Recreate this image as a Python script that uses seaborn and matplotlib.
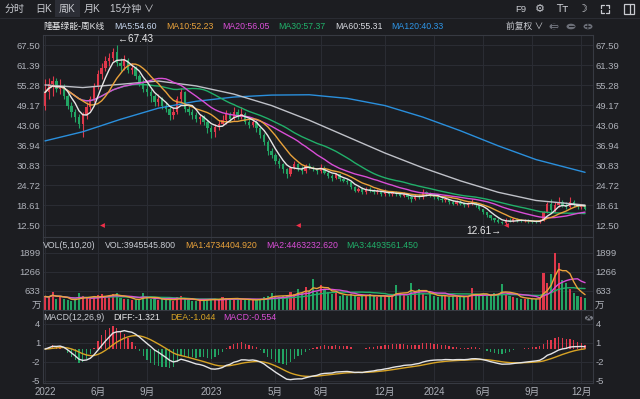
import numpy as np
import pandas as pd
import matplotlib
matplotlib.use("Agg")
import matplotlib.pyplot as plt
import seaborn as sns
from matplotlib.patches import Rectangle, Circle

# ---------------- data (weekly, 隆基绿能 601012, 前复权) ----------------
open_ = [49.0, 53.0, 55.5, 56.5, 54.0, 55.0, 52.0, 49.0, 47.0, 45.5,
         43.5, 46.0, 48.5, 51.0, 55.0, 58.5, 60.5, 62.5, 63.5, 65.5,
         62.0, 61.0, 63.0, 60.0, 60.5, 58.0, 56.0, 54.0, 53.0, 52.0,
         50.0, 51.0, 49.0, 48.0, 46.0, 47.0, 51.0, 53.0, 48.0, 47.0,
         46.0, 45.0, 45.5, 44.0, 42.0, 41.0, 42.5, 43.5, 44.5, 46.5,
         45.0, 47.0, 45.5, 46.5, 44.0, 43.0, 44.0, 42.0, 40.0, 38.0,
         35.0, 34.0, 32.0, 31.0, 29.5, 28.0, 30.0, 31.0, 30.0, 29.0,
         30.5, 30.0, 29.5, 29.0, 30.0, 28.5, 27.5, 27.0, 28.0, 26.5,
         26.0, 25.5, 24.0, 23.0, 23.5, 22.5, 23.5, 23.0, 22.5, 23.0,
         22.0, 22.5, 22.0, 22.5, 22.0, 21.5, 22.0, 21.0, 20.5, 21.5,
         21.0, 22.5, 22.0, 21.5, 21.0, 20.5, 20.0, 20.5, 19.5, 19.0,
         19.5, 19.0, 18.5, 19.0, 19.5, 18.5, 17.5, 16.5, 15.5, 14.5,
         14.0, 13.5, 13.0, 14.0, 13.8, 14.2, 14.0, 13.7, 13.8, 13.6,
         13.5, 13.4, 13.8, 16.5, 19.0, 17.0, 18.5, 19.5, 18.5, 18.0,
         19.5, 18.5, 18.0, 18.3]
close = [53.0, 55.5, 56.5, 54.0, 55.0, 52.0, 49.0, 47.0, 45.5, 43.5,
         46.0, 48.5, 51.0, 55.0, 58.5, 60.5, 62.5, 63.5, 65.5, 62.0,
         61.0, 63.0, 60.0, 60.5, 58.0, 56.0, 54.0, 53.0, 52.0, 50.0,
         51.0, 49.0, 48.0, 46.0, 47.0, 51.0, 53.0, 48.0, 47.0, 46.0,
         45.0, 45.5, 44.0, 42.0, 41.0, 42.5, 43.5, 44.5, 46.5, 45.0,
         47.0, 45.5, 46.5, 44.0, 43.0, 44.0, 42.0, 40.0, 38.0, 35.0,
         34.0, 32.0, 31.0, 29.5, 28.0, 30.0, 31.0, 30.0, 29.0, 30.5,
         30.0, 29.5, 29.0, 30.0, 28.5, 27.5, 27.0, 28.0, 26.5, 26.0,
         25.5, 24.0, 23.0, 23.5, 22.5, 23.5, 23.0, 22.5, 23.0, 22.0,
         22.5, 22.0, 22.5, 22.0, 21.5, 22.0, 21.0, 20.5, 21.5, 21.0,
         22.5, 22.0, 21.5, 21.0, 20.5, 20.0, 20.5, 19.5, 19.0, 19.5,
         19.0, 18.5, 19.0, 19.5, 18.5, 17.5, 16.5, 15.5, 14.5, 14.0,
         13.5, 13.0, 14.0, 13.8, 14.2, 14.0, 13.7, 13.8, 13.6, 13.5,
         13.4, 13.8, 16.5, 19.0, 17.0, 18.5, 19.5, 18.5, 18.0, 19.5,
         18.5, 18.0, 18.3, 17.5]
high = [57.0, 57.5, 58.0, 57.5, 57.0, 55.5, 52.5, 50.0, 48.0, 46.5,
        47.0, 50.0, 52.0, 56.0, 60.0, 62.0, 64.0, 65.0, 66.5, 67.43,
        63.5, 64.5, 63.5, 62.0, 61.0, 58.5, 57.0, 55.5, 54.0, 52.5,
        52.5, 51.5, 50.0, 48.5, 48.5, 52.0, 54.5, 53.5, 49.0, 48.0,
        47.0, 46.5, 46.0, 44.5, 43.0, 43.5, 44.5, 46.0, 47.5, 47.0,
        48.5, 48.0, 48.5, 47.0, 45.0, 45.0, 44.5, 42.5, 40.5, 38.5,
        36.0, 34.5, 33.0, 31.5, 30.0, 30.5, 32.0, 31.5, 30.5, 31.0,
        31.5, 30.5, 30.0, 31.0, 30.5, 29.0, 28.0, 28.5, 28.0, 27.0,
        26.5, 26.0, 24.5, 24.0, 24.0, 24.0, 24.0, 23.5, 23.5, 23.0,
        23.5, 23.0, 23.0, 23.0, 22.5, 22.5, 22.0, 21.5, 22.0, 22.0,
        23.5, 23.0, 22.5, 22.0, 21.5, 21.0, 21.0, 20.5, 20.0, 20.0,
        20.0, 19.5, 19.5, 20.5, 19.5, 18.5, 17.5, 16.5, 15.5, 14.5,
        14.5, 13.8, 14.5, 14.5, 14.6, 14.5, 14.3, 14.2, 14.2, 14.0,
        13.9, 14.2, 16.8, 19.5, 20.5, 19.5, 21.0, 20.0, 19.5, 21.2,
        20.0, 19.0, 18.8, 18.5]
low = [47.5, 51.0, 52.0, 53.0, 52.5, 51.0, 48.0, 45.5, 44.0, 42.0,
       39.4, 45.0, 47.5, 50.0, 54.0, 57.0, 59.5, 61.0, 62.5, 61.0,
       59.5, 60.0, 59.0, 58.5, 57.0, 55.0, 53.0, 52.0, 50.0, 49.0,
       49.0, 48.0, 47.0, 44.5, 45.0, 46.5, 50.0, 47.0, 46.0, 45.0,
       44.0, 43.5, 43.0, 40.5, 39.0, 39.5, 41.5, 43.0, 43.5, 44.0,
       44.5, 45.0, 45.0, 43.5, 42.0, 42.5, 41.0, 39.0, 37.0, 34.0,
       33.0, 31.0, 30.0, 28.5, 27.0, 27.5, 29.5, 29.0, 28.0, 28.5,
       29.5, 29.0, 28.0, 28.5, 28.0, 27.0, 26.0, 26.5, 26.0, 25.5,
       25.0, 23.5, 22.5, 22.5, 22.0, 22.0, 22.5, 22.0, 22.0, 21.5,
       21.5, 21.5, 21.5, 21.5, 21.0, 21.0, 20.5, 19.5, 20.0, 20.5,
       20.5, 21.5, 21.0, 20.5, 20.0, 19.5, 19.5, 19.0, 18.5, 18.5,
       18.5, 18.0, 18.0, 18.5, 18.0, 17.0, 16.0, 15.0, 14.0, 13.5,
       13.0, 12.8, 12.61, 13.3, 13.5, 13.5, 13.3, 13.3, 13.2, 13.0,
       13.0, 13.2, 13.6, 16.3, 16.5, 16.5, 18.0, 18.0, 17.5, 17.8,
       18.0, 17.5, 17.5, 17.0]
volume = [450, 420, 600, 380, 430, 350, 330, 300, 320, 550,
          480, 400, 380, 420, 500, 530, 450, 480, 520, 560,
          400, 380, 350, 330, 340, 360, 580, 420, 380, 350,
          330, 360, 340, 380, 300, 420, 450, 350, 330, 310,
          300, 320, 340, 380, 360, 350, 330, 420, 400, 370,
          380, 350, 340, 360, 330, 320, 340, 380, 420, 450,
          550, 470, 430, 450, 480, 600, 520, 713, 560, 750,
          620, 1046, 600, 820, 650, 590, 520, 560, 480, 500,
          460, 520, 480, 440, 500, 470, 520, 450, 430, 480,
          460, 440, 500, 820, 560, 520, 480, 890, 620, 700,
          540, 480, 520, 460, 440, 500, 470, 440, 480, 420,
          450, 430, 480, 720, 500, 460, 520, 480, 500, 560,
          540, 880, 520, 460, 440, 400, 380, 360, 380, 350,
          370, 400, 1220, 900, 1200, 1899, 1551, 1000, 900, 700,
          550, 480, 420, 400]
# long moving averages (history before the window is not shown), read at sample weeks
ma_sample_weeks = [0, 10, 20, 30, 40, 50, 60, 70, 80, 90, 100, 110, 120, 130, 143]
ma60_values = [55.3, 54.5, 55.5, 56.5, 55.0, 52.5, 49.0, 44.5, 39.5, 34.5, 30.0, 26.0, 22.5, 20.0, 18.6]
ma120_values = [38.2, 41.0, 44.8, 48.2, 50.3, 51.6, 52.2, 52.3, 51.2, 49.0, 45.5, 41.3, 36.7, 32.5, 28.6]

price_ticks = [12.50, 18.61, 24.72, 30.83, 36.94, 43.06, 49.17, 55.28, 61.39, 67.50]
vol_ticks = [633, 1266, 1899]
macd_ticks = [-5, -2, 1, 4]
date_tick_weeks = [0, 14, 27, 44, 61, 73, 90, 103, 116, 129, 142]
date_tick_labels = ['2022', '6月', '9月', '2023', '5月', '8月', '12月', '2024', '6月', '9月', '12月']
event_weeks = [15, 67, 122]

# ---------------- style ----------------
sns.set_theme(style="dark")
plt.rcParams['font.family'] = ['Liberation Sans', 'Noto Sans CJK SC', 'DejaVu Sans']
BG = '#1c1d21'
GRID = '#2a2c33'
BORDER = '#373a42'
TXT = '#aeb1b9'
ICON = '#c8cad0'
RED = '#e0384b'
GREEN = '#22a463'
C_MA5 = '#e6e6e6'
C_MA10 = '#e9a23b'
C_MA20 = '#d94ed6'
C_MA30 = '#21b06a'
C_MA60 = '#bfc1c8'
C_MA120 = '#2a8fdc'

W, H = 640, 399
fig = plt.figure(figsize=(W / 100, H / 100), dpi=100, facecolor=BG)


def ax_at(x0, y0, x1, y1):
    a = fig.add_axes([x0 / W, 1 - y1 / H, (x1 - x0) / W, (y1 - y0) / H])
    a.set_facecolor(BG)
    for s in a.spines.values():
        s.set_color(BORDER)
        s.set_linewidth(0.8)
    a.tick_params(length=0, colors=TXT, labelsize=6.8, labelleft=True, labelright=True, pad=2)
    a.grid(False)
    return a


def ftext(x, y, s, **kw):
    kw.setdefault('color', TXT)
    kw.setdefault('fontsize', 6.3)
    kw.setdefault('va', 'center')
    fig.text(x / W, 1 - y / H, s, **kw)


def fline(xs, ys, **kw):
    fig.add_artist(plt.Line2D([v / W for v in xs], [1 - v / H for v in ys],
                              transform=fig.transFigure, **kw))


N = len(close)
df = pd.DataFrame({'week': np.arange(N), 'open': open_, 'close': close,
                   'high': high, 'low': low, 'vol': volume})
for n in (5, 10, 20, 30):
    df[f'ma{n}'] = df['close'].rolling(n, min_periods=1).mean()
for n in (5, 10, 20):
    df[f'vma{n}'] = df['vol'].rolling(n, min_periods=1).mean()
ema12 = df['close'].ewm(span=12, adjust=False).mean()
ema26 = df['close'].ewm(span=26, adjust=False).mean()
df['diff'] = ema12 - ema26
df['dea'] = df['diff'].ewm(span=9, adjust=False).mean()
df['hist'] = 2 * (df['diff'] - df['dea'])
up = df['close'] >= df['open']
cols = np.where(up, RED, GREEN)
mlong = pd.DataFrame({'week': ma_sample_weeks, 'ma60': ma60_values, 'ma120': ma120_values})

XL = (-0.53, 145.1)

# ---------------- main price panel ----------------
ax = ax_at(43, 35, 593, 237)
ax.set_xlim(*XL)
ax.set_ylim(8.84, 70.56)
for t in price_ticks:
    ax.axhline(t, color=GRID, lw=0.8, zorder=0)
for w in date_tick_weeks:
    ax.axvline(w, color=GRID, lw=0.8, zorder=0)
ax.vlines(df['week'], df['low'], df['high'], colors=cols, lw=0.8, zorder=2)
body = (df['close'] - df['open']).abs().clip(lower=0.12)
ax.bar(df['week'], body, bottom=df[['open', 'close']].min(axis=1), width=0.62,
       color=cols, linewidth=0, zorder=2)
sns.lineplot(data=mlong, x='week', y='ma120', ax=ax, color=C_MA120, lw=1.0, zorder=3)
sns.lineplot(data=mlong, x='week', y='ma60', ax=ax, color=C_MA60, lw=1.0, zorder=3)
sns.lineplot(data=df, x='week', y='ma30', ax=ax, color=C_MA30, lw=1.0, zorder=4)
sns.lineplot(data=df, x='week', y='ma20', ax=ax, color=C_MA20, lw=1.0, zorder=4)
sns.lineplot(data=df, x='week', y='ma10', ax=ax, color=C_MA10, lw=1.0, zorder=4)
sns.lineplot(data=df, x='week', y='ma5', ax=ax, color=C_MA5, lw=1.0, zorder=5)
ax.set_yticks(price_ticks)
ax.set_yticklabels([f'{t:.2f}' for t in price_ticks])
ax.set_xticks(date_tick_weeks)
ax.tick_params(labelbottom=False)
ax.set_xlabel('')
ax.set_ylabel('')
# extremes
ih = int(np.argmax(high))
il = int(np.argmin(low))
ax.text(ih + 0.3, high[ih] + 0.3, '←' + f'{high[ih]:.2f}', color='#e8e8ea', fontsize=7.2,
        ha='left', va='bottom', zorder=6)
ax.text(il - 1.0, low[il] - 0.4, f'{low[il]:.2f}' + '→', color='#e8e8ea', fontsize=7.2,
        ha='right', va='top', zorder=6)
ax.scatter(event_weeks, [12.5] * len(event_weeks), marker='<', s=12, color='#f0304a',
           linewidths=0, zorder=6)

# ---------------- volume panel ----------------
av = ax_at(43, 237, 593, 310)
av.set_xlim(*XL)
av.set_ylim(0, 2432)
for t in vol_ticks:
    av.axhline(t, color=GRID, lw=0.8, zorder=0)
for w in date_tick_weeks:
    av.axvline(w, color=GRID, lw=0.8, zorder=0)
av.bar(df['week'], df['vol'], width=0.55, color=cols, linewidth=0, zorder=2)
sns.lineplot(data=df, x='week', y='vma20', ax=av, color=C_MA30, lw=1.0, zorder=3)
sns.lineplot(data=df, x='week', y='vma10', ax=av, color=C_MA20, lw=1.0, zorder=3)
sns.lineplot(data=df, x='week', y='vma5', ax=av, color=C_MA10, lw=1.0, zorder=4)
av.set_yticks(vol_ticks)
av.set_yticklabels([str(t) for t in vol_ticks])
av.set_xticks(date_tick_weeks)
av.tick_params(labelbottom=False)
av.set_xlabel('')
av.set_ylabel('')

# ---------------- MACD panel ----------------
am = ax_at(43, 310, 593, 383)
am.set_xlim(*XL)
am.set_ylim(-5.36, 6.16)
for t in macd_ticks:
    am.axhline(t, color=GRID, lw=0.8, zorder=0)
for w in date_tick_weeks:
    am.axvline(w, color=GRID, lw=0.8, zorder=0)
hcols = np.where(df['hist'] >= 0, RED, GREEN)
am.bar(df['week'], df['hist'], width=0.35, color=hcols, linewidth=0, zorder=2)
sns.lineplot(data=df, x='week', y='dea', ax=am, color='#d7a325', lw=1.0, zorder=3)
sns.lineplot(data=df, x='week', y='diff', ax=am, color='#e4e4e6', lw=1.0, zorder=4)
am.set_yticks(macd_ticks)
am.set_yticklabels([str(t) for t in macd_ticks])
am.set_xticks(date_tick_weeks)
am.set_xticklabels(date_tick_labels)
am.tick_params(axis='x', labelsize=7.0, pad=3)
am.set_xlabel('')
am.set_ylabel('')

# ---------------- header texts ----------------
fig.add_artist(Rectangle((55 / W, 1 - 17 / H), 25 / W, 17 / H, transform=fig.transFigure,
                         facecolor='#2c2e36', edgecolor='none'))
fline([0, W], [17.5, 17.5], color='#2a2c33', lw=0.8)
for xx, s in [(5, '分时'), (35, '日K'), (59, '周K'), (84, '月K'), (110, '15分钟 ∨')]:
    ftext(xx, 9, s, fontsize=7.2, color=ICON, ha='left')
ftext(515, 9, 'F9', fontsize=6.8, color=ICON, ha='left')
ftext(540, 9, '⚙', fontsize=8, color=ICON, ha='center', family='DejaVu Sans')
ftext(562, 9, 'Tт', fontsize=7.5, color=ICON, ha='center', family='DejaVu Sans')
ftext(583, 9, '☽', fontsize=8, color=ICON, ha='center', family='DejaVu Sans')
# expand icon (four corners) drawn as shapes
for (cx, cy, dx, dy) in [(601, 5, 1, 1), (609, 5, -1, 1), (601, 13, 1, -1), (609, 13, -1, -1)]:
    fline([cx + 3 * dx, cx, cx], [cy, cy, cy + 3 * dy], color=ICON, lw=0.9)
# side-panel icon
fig.add_artist(Rectangle((624 / W, 1 - 14 / H), 10 / W, 10 / H, transform=fig.transFigure,
                         facecolor='none', edgecolor=ICON, lw=0.9))
fline([630, 630], [4, 14], color=ICON, lw=0.9)

ftext(43, 26.5, '隆基绿能-周K线', color='#e6e7ea', ha='left')
for xx, s, c in [(114, 'MA5:54.60', '#c6d6ee'), (166, 'MA10:52.23', C_MA10),
                 (222, 'MA20:56.05', C_MA20), (278, 'MA30:57.37', C_MA30),
                 (335, 'MA60:55.31', '#d8dae0'), (391, 'MA120:40.33', '#2e95e6')]:
    ftext(xx, 26.5, s, color=c, ha='left')
ftext(506, 26.5, '前复权 ∨', color=ICON, ha='left')
for xx, sym in [(554, '≡'), (571, '−'), (588, '+')]:
    fig.add_artist(Circle((xx / W, 1 - 26.5 / H), 4.5 / W, transform=fig.transFigure,
                          facecolor='#6c6f78', edgecolor='none'))
    ftext(xx, 26.5, sym, color=BG, ha='center', fontsize=6.5, family='DejaVu Sans',
          fontweight='bold')

for xx, s, c in [(43, 'VOL(5,10,20)', '#c9ccd3'), (105, 'VOL:3945545.800', '#c9ccd3'),
                 (185, 'MA1:4734404.920', C_MA10), (266, 'MA2:4463232.620', C_MA20),
                 (346, 'MA3:4493561.450', C_MA30)]:
    ftext(xx, 245.5, s, color=c, ha='left')
ftext(41, 305, '万', fontsize=6.8, ha='right')
ftext(595, 305, '万', fontsize=6.8, ha='left')

for xx, s, c in [(43, 'MACD(12,26,9)', '#c9ccd3'), (113, 'DIFF:-1.321', '#e4e4e6'),
                 (170, 'DEA:-1.044', '#d7a325'), (223, 'MACD:-0.554', C_MA20)]:
    ftext(xx, 317.5, s, color=c, ha='left')
fig.add_artist(Circle((589 / W, 1 - 318 / H), 4 / W, transform=fig.transFigure,
                      facecolor='#7a7d86', edgecolor='none'))
ftext(589, 318, '×', color=BG, ha='center', fontsize=6.5, family='DejaVu Sans', fontweight='bold')

fig.savefig('out.png', dpi=100, facecolor=BG)
